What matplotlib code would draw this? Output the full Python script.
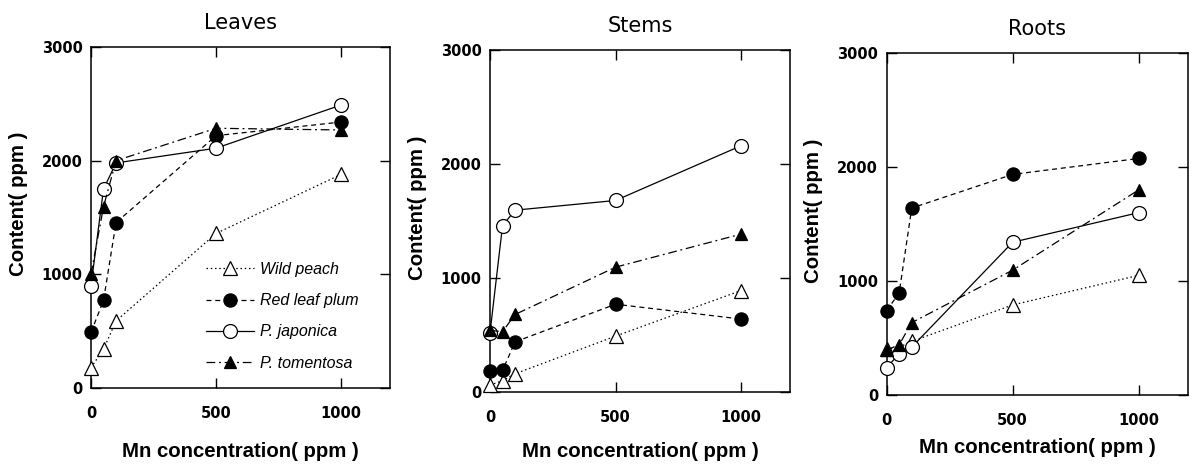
import matplotlib
matplotlib.use("Agg")
import matplotlib.pyplot as plt

# Mn supplied in the nutrient solution (ppm)
conc = [0, 50, 100, 500, 1000]

# Mn content (ppm) per organ and species
leaves_wild = [180, 340, 590, 1360, 1880]
leaves_red = [490, 770, 1455, 2220, 2340]
leaves_jap = [900, 1750, 1980, 2110, 2490]
leaves_tom = [1000, 1595, 2000, 2285, 2270]

stems_wild = [60, 100, 160, 490, 890]
stems_red = [180, 190, 440, 770, 640]
stems_jap = [520, 1460, 1595, 1680, 2160]
stems_tom = [540, 530, 680, 1095, 1385]

roots_wild = [400, 420, 470, 790, 1050]
roots_red = [740, 893, 1640, 1935, 2075]
roots_jap = [240, 360, 420, 1340, 1600]
roots_tom = [395, 440, 635, 1095, 1800]

species = ["Wild peach", "Red leaf plum", "P. japonica", "P. tomentosa"]
panel_titles = ["Leaves", "Stems", "Roots"]
xticks = [0, 500, 1000]
yticks = [0, 1000, 2000, 3000]

panels = [
    (leaves_wild, leaves_red, leaves_jap, leaves_tom),
    (stems_wild, stems_red, stems_jap, stems_tom),
    (roots_wild, roots_red, roots_jap, roots_tom),
]

styles = [
    dict(ls=(0, (1.2, 2.2)), marker="^", mfc="white", mec="black", ms=9.5),
    dict(ls=(0, (4, 3)), marker="o", mfc="black", mec="black", ms=9.5),
    dict(ls="-", marker="o", mfc="white", mec="black", ms=10),
    dict(ls=(0, (7, 3, 1.5, 3)), marker="^", mfc="black", mec="black", ms=9),
]

W, H = 1192, 468
fig = plt.figure(figsize=(W / 100, H / 100), dpi=100)

# axes boxes in pixels: left, right, top, bottom
boxes = [
    (91, 390, 47, 388),
    (490, 790, 50, 392),
    (886.5, 1188, 53, 395),
]
xlabel_pads = [15, 12, 7]

tick_font = dict(family="DejaVu Sans", weight="bold", size=10.5)
label_font = dict(family="Liberation Sans", weight="bold", size=14.7)

for i, ((l, r, t, b), series, title) in enumerate(zip(boxes, panels, panel_titles)):
    ax = fig.add_axes([l / W, (H - b) / H, (r - l) / W, (b - t) / H])
    for vals, st, name in zip(series, styles, species):
        ax.plot(conc, vals, color="black", lw=0.9, mew=0.9, label=name,
                clip_on=False, zorder=3, **st)
    ax.set_xlim(0, 1195)
    ax.set_ylim(0, 3000)
    ax.set_xticks(xticks)
    ax.set_yticks(yticks)
    ax.set_xticklabels([str(v) for v in xticks], fontdict=tick_font)
    ax.set_yticklabels([str(v) for v in yticks], fontdict=tick_font)
    ax.tick_params(direction="in", length=7, width=1.0, top=True, right=True)
    ax.tick_params(axis="x", pad=13)
    ax.tick_params(axis="y", pad=6)
    for sp in ax.spines.values():
        sp.set_linewidth(1.1)
    ax.set_xlabel("Mn concentration( ppm )", fontdict=label_font,
                  labelpad=xlabel_pads[i])
    ax.set_ylabel("Content( ppm )", fontdict=label_font)
    ax.yaxis.set_label_coords(-0.21, 0.54)
    ax.set_title(title, family="DejaVu Sans", size=15, pad=13)

    if i == 0:
        ax.legend(loc="upper left", bbox_to_anchor=(0.385, 0.37),
                  frameon=False, handlelength=3.0, handletextpad=0.35,
                  labelspacing=1.02, borderpad=0, borderaxespad=0,
                  numpoints=1,
                  prop=dict(family="Liberation Sans", style="italic",
                            size=11.5))

fig.savefig("out.png", dpi=100, facecolor="white")
